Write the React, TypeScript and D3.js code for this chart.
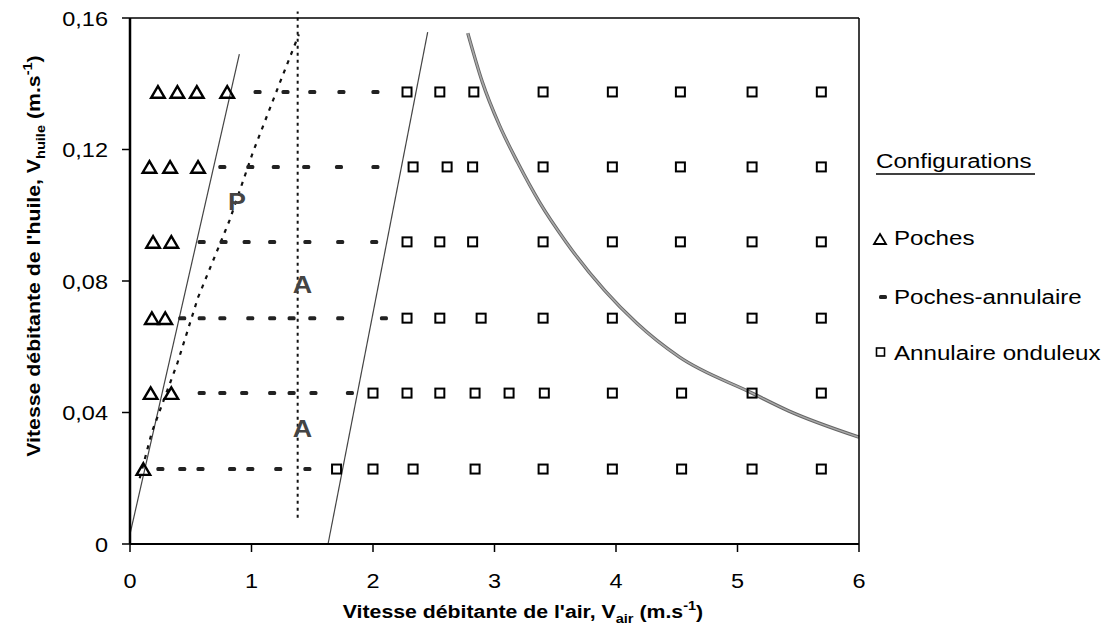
import React from "react";
import * as d3 from "d3";

// ---- data ----
const rowY = [0.1375, 0.1147, 0.0919, 0.0687, 0.0459, 0.0228];

const pochesX = [
  [0.23, 0.39, 0.55, 0.8],
  [0.16, 0.33, 0.56],
  [0.19, 0.34],
  [0.18, 0.29],
  [0.17, 0.34],
  [0.11],
];

const pochesAnnulaireX = [
  [1.05, 1.28, 1.5, 1.74, 2.02],
  [0.76, 0.99, 1.2, 1.45, 1.72, 2.02],
  [0.59, 0.77, 0.96, 1.17, 1.46, 1.73, 2.01],
  [0.43, 0.59, 0.76, 0.99, 1.17, 1.33, 1.5, 1.73, 2.09],
  [0.59, 0.76, 0.94, 1.17, 1.33, 1.51, 1.81],
  [0.25, 0.43, 0.58, 0.84, 0.99, 1.22, 1.46],
];

const annulaireX = [
  [2.28, 2.55, 2.83, 3.4, 3.97, 4.53, 5.12, 5.69],
  [2.33, 2.61, 2.82, 3.4, 3.97, 4.53, 5.12, 5.69],
  [2.28, 2.55, 2.82, 3.4, 3.97, 4.53, 5.12, 5.69],
  [2.28, 2.55, 2.89, 3.4, 3.97, 4.53, 5.12, 5.69],
  [2.0, 2.28, 2.55, 2.84, 3.12, 3.41, 3.97, 4.54, 5.12, 5.69],
  [1.7, 2.0, 2.33, 2.84, 3.4, 3.97, 4.54, 5.12, 5.69],
];

const boundary1X = [0.0, 0.9];
const boundary1Y = [0.003, 0.149];
const boundary2X = [1.63, 2.45];
const boundary2Y = [0.0, 0.1557];
const curveX = [2.78, 2.9, 3.04, 3.19, 3.37, 3.59, 4.17, 4.52, 5.12, 5.42, 6.0];
const curveY = [0.1554, 0.1405, 0.1274, 0.1161, 0.104, 0.0918, 0.0672, 0.0569, 0.0459, 0.0405, 0.0325];
const dottedX = [0.08, 0.18, 0.39, 0.56, 0.82, 1.01, 1.23, 1.39];
const dottedY = [0.02, 0.034, 0.055, 0.075, 0.0985, 0.119, 0.14, 0.155];
const verticalX = 1.38;
const verticalY = [0.008, 0.162];

const regionLabels = ["P", "A", "A"];
const regionLabelX = [0.88, 1.42, 1.42];
const regionLabelY = [0.1015, 0.0765, 0.0325];

const xTicks = [0, 1, 2, 3, 4, 5, 6];
const yTicks = [0, 0.04, 0.08, 0.12, 0.16];
const yTickLabels = ["0", "0,04", "0,08", "0,12", "0,16"];

const legendLabels = ["Poches", "Poches-annulaire", "Annulaire onduleux"];

// ---- layout ----
const W = 1106;
const H = 642;
const L = 130, R = 859, T = 18, B = 544;
const FONT = "'Liberation Sans', Arial, Helvetica, sans-serif";
const SX = 1.12;

const x = d3.scaleLinear().domain([0, 6]).range([L, R]);
const y = d3.scaleLinear().domain([0, 0.16]).range([B, T]);

const lineGen = d3.line<[number, number]>().x((d) => x(d[0])).y((d) => y(d[1]));
const curveGen = d3
  .line<[number, number]>()
  .x((d) => x(d[0]))
  .y((d) => y(d[1]))
  .curve(d3.curveMonotoneX);

const zip = (a: number[], b: number[]) => a.map((v, i) => [v, b[i]] as [number, number]);

function STxt(props: {
  x: number;
  y: number;
  size: number;
  sx?: number;
  anchor?: string;
  weight?: string;
  fill?: string;
  children: React.ReactNode;
}) {
  return (
    <g transform={`translate(${props.x},${props.y}) scale(${props.sx || SX},1)`}>
      <text
        x={0}
        y={0}
        fontSize={props.size}
        fontFamily={FONT}
        fontWeight={props.weight || "normal"}
        textAnchor={props.anchor || "start"}
        fill={props.fill || "#000"}
      >
        {props.children}
      </text>
    </g>
  );
}

function Triangle({ cx, cy }: { cx: number; cy: number }) {
  const w = 6.8, h = 5.8;
  return (
    <path
      d={`M${cx},${cy - h} L${cx + w},${cy + h} L${cx - w},${cy + h} Z`}
      fill="none"
      stroke="#000"
      strokeWidth={2.4}
      strokeLinejoin="miter"
    />
  );
}

function Square({ cx, cy }: { cx: number; cy: number }) {
  return (
    <rect x={cx - 4.5} y={cy - 4.5} width={9} height={9} fill="none" stroke="#000" strokeWidth={2} />
  );
}

function Dash({ cx, cy }: { cx: number; cy: number }) {
  return <rect x={cx - 4} y={cy - 2} width={8} height={4} rx={1.5} fill="#222" />;
}

export default function App() {
  return (
    <svg
      width={W}
      height={H}
      style={{ position: "absolute", left: 0, top: 0, background: "#fff" }}
    >
      <rect x={0} y={0} width={W} height={H} fill="#fff" />

      {/* boundary lines */}
      <path d={lineGen(zip(boundary1X, boundary1Y)) || ""} fill="none" stroke="#444" strokeWidth={1.2} />
      <path d={lineGen(zip(boundary2X, boundary2Y)) || ""} fill="none" stroke="#444" strokeWidth={1.2} />
      <path d={curveGen(zip(curveX, curveY)) || ""} fill="none" stroke="#666" strokeWidth={3.4} />
      <path d={curveGen(zip(curveX, curveY)) || ""} fill="none" stroke="#aaa" strokeWidth={1.6} />
      <path
        d={lineGen(zip(dottedX, dottedY)) || ""}
        fill="none"
        stroke="#111"
        strokeWidth={2.2}
        strokeDasharray="4,6"
      />
      <path
        d={lineGen(zip([verticalX, verticalX], verticalY)) || ""}
        fill="none"
        stroke="#111"
        strokeWidth={2}
        strokeDasharray="3,4"
      />

      {/* markers */}
      {pochesX.map((row, i) =>
        row.map((v, j) => <Triangle key={`t${i}-${j}`} cx={x(v)} cy={y(rowY[i])} />)
      )}
      {pochesAnnulaireX.map((row, i) =>
        row.map((v, j) => <Dash key={`d${i}-${j}`} cx={x(v)} cy={y(rowY[i])} />)
      )}
      {annulaireX.map((row, i) =>
        row.map((v, j) => <Square key={`s${i}-${j}`} cx={x(v)} cy={y(rowY[i])} />)
      )}

      {/* region labels */}
      {regionLabels.map((t, i) => (
        <STxt key={`rl${i}`} x={x(regionLabelX[i])} y={y(regionLabelY[i])} size={24} weight="bold" anchor="middle" fill="#444">
          {t}
        </STxt>
      ))}

      {/* frame */}
      <line x1={L} y1={T} x2={R} y2={T} stroke="#000" strokeWidth={1.5} />
      <line x1={R} y1={T} x2={R} y2={B} stroke="#000" strokeWidth={1.5} />
      <line x1={L} y1={T} x2={L} y2={B} stroke="#000" strokeWidth={2.5} />
      <line x1={L} y1={B} x2={R} y2={B} stroke="#000" strokeWidth={2} />

      {/* ticks */}
      {yTicks.map((t, i) => (
        <g key={`yt${i}`}>
          <line x1={L - 8} x2={L} y1={y(t)} y2={y(t)} stroke="#000" strokeWidth={1.5} />
          <STxt x={108} y={y(t) + 7.5} size={21} anchor="end">
            {yTickLabels[i]}
          </STxt>
        </g>
      ))}
      {xTicks.map((t, i) => (
        <g key={`xt${i}`}>
          <line x1={x(t)} x2={x(t)} y1={B} y2={B + 8} stroke="#000" strokeWidth={1.5} />
          <STxt x={x(t)} y={588} size={21} anchor="middle">
            {String(t)}
          </STxt>
        </g>
      ))}

      {/* axis titles */}
      <g transform={`translate(523,618) scale(${SX},1)`}>
        <text textAnchor="middle" fontFamily={FONT} fontWeight="bold" fontSize={19}>
          Vitesse débitante de l'air, V
          <tspan fontSize={13} dy={5}>air</tspan>
          <tspan dy={-5}> (m.s</tspan>
          <tspan fontSize={13} dy={-8}>-1</tspan>
          <tspan dy={8}>)</tspan>
        </text>
      </g>
      <g transform={`translate(40,256) rotate(-90) scale(${SX},1)`}>
        <text textAnchor="middle" fontFamily={FONT} fontWeight="bold" fontSize={19}>
          Vitesse débitante de l'huile, V
          <tspan fontSize={13} dy={5}>huile</tspan>
          <tspan dy={-5}> (m.s</tspan>
          <tspan fontSize={13} dy={-8}>-1</tspan>
          <tspan dy={8}>)</tspan>
        </text>
      </g>

      {/* legend */}
      <STxt x={876} y={168} size={21} sx={1.15}>
        Configurations
      </STxt>
      <line x1={876} x2={1035} y1={174} y2={174} stroke="#000" strokeWidth={1.5} />
      <path d="M880,234 L886,244 L874,244 Z" fill="none" stroke="#000" strokeWidth={1.8} />
      <STxt x={894} y={245} size={21} sx={1.15}>
        {legendLabels[0]}
      </STxt>
      <rect x={879} y={295} width={8} height={4} rx={1.5} fill="#222" />
      <STxt x={894} y={304} size={21} sx={1.15}>
        {legendLabels[1]}
      </STxt>
      <rect x={876.5} y={348} width={8} height={8} fill="none" stroke="#000" strokeWidth={1.6} />
      <STxt x={894} y={360} size={21} sx={1.15}>
        {legendLabels[2]}
      </STxt>
    </svg>
  );
}
